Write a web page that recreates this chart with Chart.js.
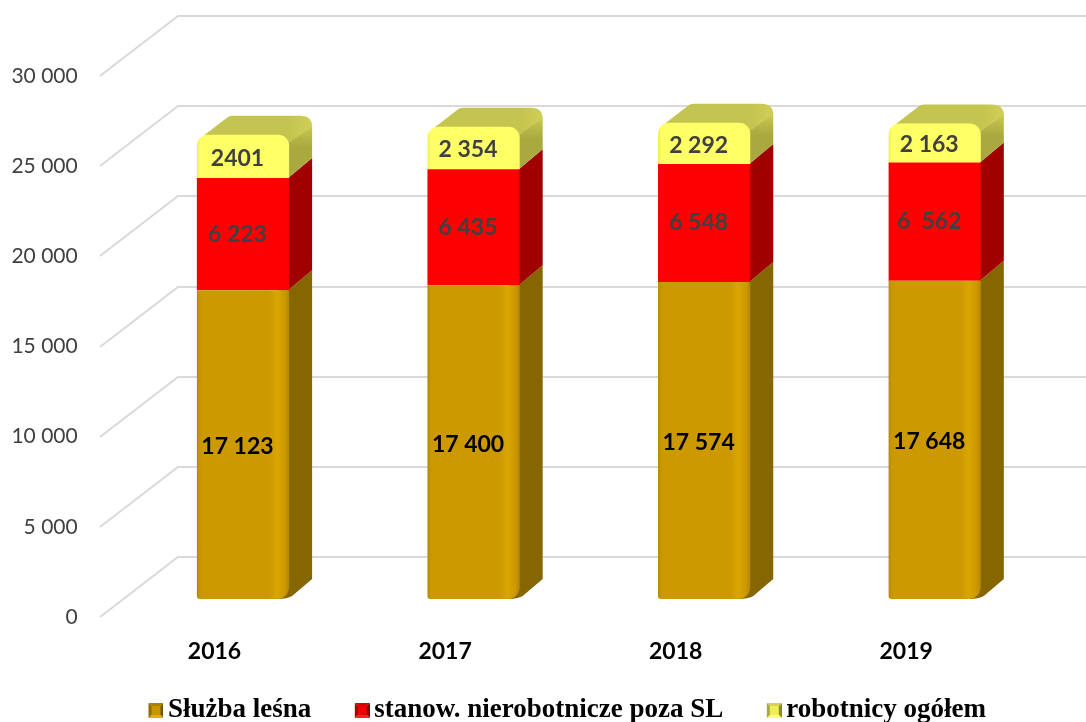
<!DOCTYPE html>
<html>
<head>
<meta charset="utf-8">
<style>html,body{margin:0;padding:0;background:#fff}canvas{display:block}</style>
<script src="https://cdn.jsdelivr.net/npm/chart.js@4"></script>
</head>
<body>
<canvas id="c" width="1086" height="722"></canvas>
<script>
const categories = ['2016', '2017', '2018', '2019'];
const sluzbaLesna = [17123, 17400, 17574, 17648];
const stanowPozaSL = [6223, 6435, 6548, 6562];
const robotnicy = [2401, 2354, 2292, 2163];
const sluzbaLabels = ['17 123', '17 400', '17 574', '17 648'];
const stanowLabels = ['6 223', '6 435', '6 548', '6  562'];
const robotnicyLabels = ['2401', '2 354', '2 292', '2 163'];
const seriesNames = ['Służba leśna', 'stanow. nierobotnicze poza SL', 'robotnicy ogółem'];
const yTickLabels = ['0', '5 000', '10 000', '15 000', '20 000', '25 000', '30 000'];

const styles = [
  { front: [[0,'#b58900'],[0.03,'#c89600'],[0.07,'#cc9900'],[0.78,'#cc9900'],[0.87,'#d9a600'],[0.95,'#cc9900'],[1,'#b48800']], side: '#866600', text: '#000000', dy: 2,
    mk: ['#ac8100','#6f5500','#e0ac10','#8c6a00','#c89600'] },
  { front: [[0,'#ee0000'],[0.03,'#fc0000'],[0.07,'#ff0000'],[0.97,'#ff0000'],[1,'#ee0000']], side: '#a00000', text: '#404040', dy: 0,
    mk: ['#d80000','#880000','#ff2020','#aa0000','#ee0000'] },
  { front: [[0,'#eeee55'],[0.04,'#ffff66'],[1,'#ffff66']], side: '#a9a93f', text: '#404040', dy: 2,
    mk: ['#d4d450','#8a8a30','#ffff70','#aaaa38','#eeee58'] }
];
const labelSets = [sluzbaLabels, stanowLabels, robotnicyLabels];

function marker(m) {
  const c = document.createElement('canvas');
  c.width = 23; c.height = 15;
  const g = c.getContext('2d');
  const x0 = 8, s = 15, i = 3;
  const tri = (col, pts) => { g.fillStyle = col; g.beginPath(); pts.forEach((p, n) => n ? g.lineTo(x0+p[0], p[1]) : g.moveTo(x0+p[0], p[1])); g.closePath(); g.fill(); };
  tri(m[0], [[0,0],[s,0],[s-i,i],[i,i]]);
  tri(m[1], [[s,0],[s,s],[s-i,s-i],[s-i,i]]);
  tri(m[2], [[0,s],[s,s],[s-i,s-i],[i,s-i]]);
  tri(m[3], [[0,0],[0,s],[i,s-i],[i,i]]);
  tri(m[4], [[i,i],[s-i,i],[s-i,s-i],[i,s-i]]);
  return c;
}

const BAR_FRACTION = 0.4;
const DEPTH_X = 24, DEPTH_Y = 20;
const WALL_DY = 42, WALL_LEFT = 178, WALL_FRONT_LEFT = 100, WALL_FRONT_DY = 60;

function frontFill(stops) {
  return (ctx) => {
    const sc = ctx.chart.scales.x;
    if (!sc || ctx.dataIndex === undefined) return stops[1][1];
    const mid = sc.getPixelForValue(ctx.dataIndex);
    const half = sc.width / categories.length * BAR_FRACTION / 2;
    const gr = ctx.chart.ctx.createLinearGradient(mid - half, 0, mid + half, 0);
    stops.forEach(s => gr.addColorStop(s[0], s[1]));
    return gr;
  };
}

const scene3d = {
  id: 'scene3d',
  afterDatasetsUpdate(chart) {
    chart.getDatasetMeta(0).data.forEach(el => { el.enableBorderRadius = true; });
  },
  afterLayout(chart) {
    const l = chart.legend;
    l.left = 49.5; l.right = 1086; l.top = 652.5; l.bottom = 722;
  },
  beforeDatasetsDraw(chart) {
    const g = chart.ctx, ys = chart.scales.y;
    g.save();
    g.strokeStyle = '#d9d9d9'; g.lineWidth = 2;
    ys.ticks.forEach(t => {
      const y = Math.round(ys.getPixelForValue(t.value)) - WALL_DY;
      g.beginPath();
      g.moveTo(WALL_FRONT_LEFT, y + WALL_FRONT_DY);
      g.lineTo(WALL_LEFT, y);
      g.lineTo(chart.width, y);
      g.stroke();
    });
    chart.data.datasets.forEach((ds, di) => {
      chart.getDatasetMeta(di).data.forEach((el) => {
        const L = el.x - el.width / 2, R = el.x + el.width / 2;
        const top = el.y, bot = el.base;
        g.fillStyle = styles[di].side;
        if (di === 2) {
          const gr = g.createLinearGradient(0, top - 20, 0, top + 12);
          gr.addColorStop(0, '#cccc55'); gr.addColorStop(0.45, '#c4c450'); gr.addColorStop(1, '#a9a93f');
          g.fillStyle = gr;
        }
        g.beginPath();
        if (di === 2) {
          g.moveTo(R - 1, top + 8);
          g.lineTo(R + DEPTH_X - 1, top - DEPTH_Y + 10);
        } else {
          g.moveTo(R - 1, top);
          g.lineTo(R + DEPTH_X - 1, top - DEPTH_Y);
        }
        g.lineTo(R + DEPTH_X - 1, bot - DEPTH_Y);
        if (di === 0) {
          g.lineTo(R + 3, bot - 3);
          g.quadraticCurveTo(R - 2, bot, R - 12, bot);
          g.lineTo(R - 12, top);
        } else {
          g.lineTo(R - 1, bot);
        }
        g.closePath();
        g.fill();
        if (di === 2) {
          const gt = g.createLinearGradient(L, 0, R + DEPTH_X, 0);
          gt.addColorStop(0, '#c4c450'); gt.addColorStop(0.8, '#c4c450'); gt.addColorStop(1, '#cfcf58');
          g.fillStyle = gt;
          g.beginPath();
          g.moveTo(L + 2, top + 8);
          g.quadraticCurveTo(L + 4, top + 3, L + 8, top);
          g.lineTo(L + 30, top - DEPTH_Y + 3);
          g.quadraticCurveTo(L + 32, top - DEPTH_Y + 1, L + 36, top - DEPTH_Y + 1);
          g.lineTo(R + DEPTH_X - 13, top - DEPTH_Y + 1);
          g.quadraticCurveTo(R + DEPTH_X - 1, top - DEPTH_Y + 1, R + DEPTH_X - 1, top - DEPTH_Y + 12);
          g.lineTo(R - 1, top + 8);
          g.closePath();
          g.fill();
        }
      });
    });
    g.restore();
  },
  afterDatasetsDraw(chart) {
    const g = chart.ctx;
    g.save();
    g.font = 'bold 23px Lato';
    g.textAlign = 'center';
    g.textBaseline = 'middle';
    chart.data.datasets.forEach((ds, di) => {
      chart.getDatasetMeta(di).data.forEach((el, i) => {
        g.fillStyle = styles[di].text;
        g.fillText(labelSets[di][i], el.x - 5.5, (el.y + el.base) / 2 + styles[di].dy);
      });
    });
    g.restore();
  }
};

const series = [sluzbaLesna, stanowPozaSL, robotnicy];
const legendItems = seriesNames.map((n, i) => ({
  text: n, pointStyle: marker(styles[i].mk), fillStyle: styles[i].mk[4],
  strokeStyle: 'transparent', lineWidth: 0, datasetIndex: i, fontColor: '#000'
}));

new Chart(document.getElementById('c'), {
  type: 'bar',
  data: {
    labels: categories,
    datasets: series.map((v, i) => ({
      label: seriesNames[i],
      data: v,
      backgroundColor: frontFill(styles[i].front),
      borderWidth: 0,
      borderSkipped: false,
      borderRadius: i === 2 ? { topLeft: 11, topRight: 11, bottomLeft: 0, bottomRight: 0 }
                  : i === 0 ? { topLeft: 0, topRight: 0, bottomLeft: 3, bottomRight: 12 } : 0,
      barPercentage: BAR_FRACTION,
      categoryPercentage: 1,
      stack: 's'
    }))
  },
  options: {
    responsive: false,
    animation: false,
    events: [],
    layout: { padding: { left: 0, right: 36, top: 58, bottom: 0 } },
    scales: {
      x: {
        stacked: true,
        grid: { display: false, drawTicks: false },
        border: { display: false },
        afterFit(s) { s.height = 122; s.paddingLeft = 0; s.paddingRight = 0; },
        ticks: { color: '#000', font: { family: 'Lato', weight: 'bold', size: 23 }, padding: 39, labelOffset: -28.5, maxRotation: 0, autoSkip: false }
      },
      y: {
        stacked: true, min: 0, max: 30000,
        grid: { display: false, drawTicks: false },
        border: { display: false },
        afterFit(s) { s.width = 127.7; s.paddingTop = 0; s.paddingBottom = 0; },
        ticks: {
          stepSize: 5000, color: '#404040', padding: 50, labelOffset: 18,
          font: { family: 'Lato', size: 21 },
          callback: (v) => yTickLabels[v / 5000]
        }
      }
    },
    plugins: {
      tooltip: { enabled: false },
      title: { display: false },
      legend: {
        position: 'bottom', align: 'center', maxHeight: 1,
        labels: {
          usePointStyle: true, pointStyleWidth: 5, padding: 44.5, color: '#000',
          font: { family: 'Liberation Serif', weight: 'bold', size: 27 },
          generateLabels: () => legendItems
        }
      }
    }
  },
  plugins: [scene3d]
});
</script>
</body>
</html>
